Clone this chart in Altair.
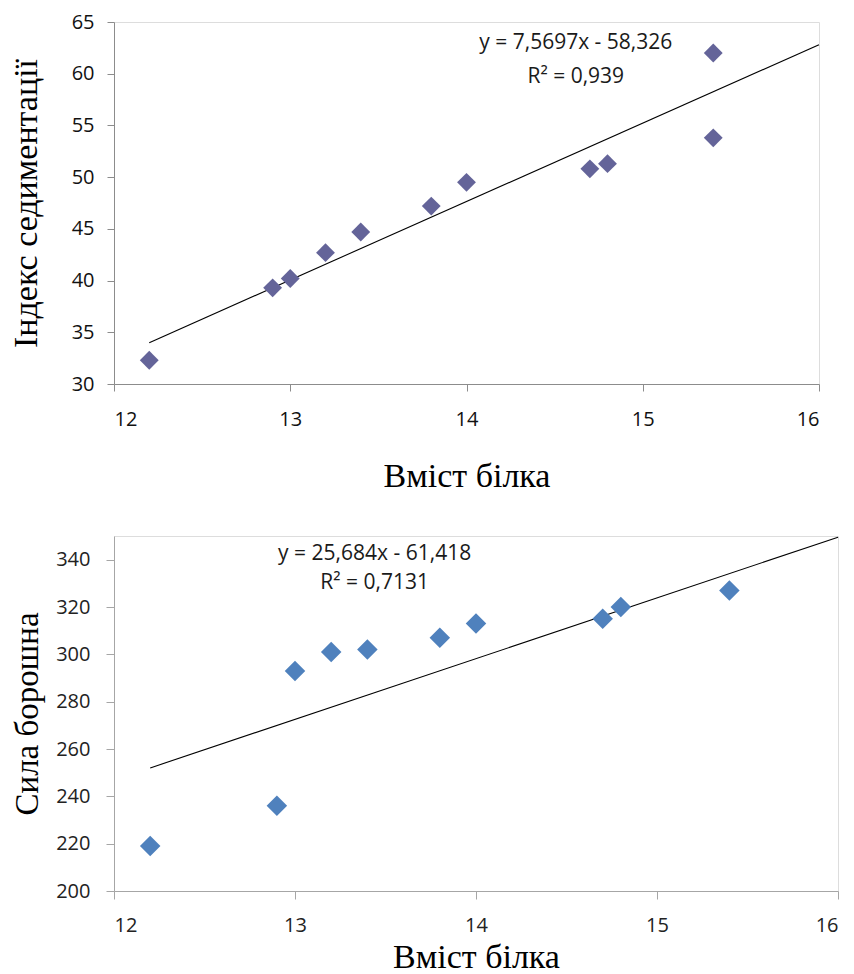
import altair as alt
import pandas as pd

# ---- data ----
protein_top = [12.2, 12.9, 13.0, 13.2, 13.4, 13.8, 14.0, 14.7, 14.8, 15.4, 15.4]
sedimentation = [32.3, 39.3, 40.2, 42.7, 44.7, 47.2, 49.5, 50.8, 51.3, 53.8, 62.0]

protein_bottom = [12.2, 12.9, 13.0, 13.2, 13.4, 13.8, 14.0, 14.7, 14.8, 15.4]
flour_strength = [219, 236, 293, 301, 302, 307, 313, 315, 320, 327]

trend_x = [12.2, 16.0]
trend_top_y = [34.0, 62.8]
trend_bottom_y = [252.0, 349.5]

x_ticks = [12, 13, 14, 15, 16]
top_y_ticks = [30, 35, 40, 45, 50, 55, 60, 65]
bottom_y_ticks = [200, 220, 240, 260, 280, 300, 320, 340]

top_eq = ["y = 7,5697x - 58,326", "R² = 0,939"]
bottom_eq = ["y = 25,684x - 61,418", "R² = 0,7131"]

x_title = "Вміст білка"
top_y_title = "Індекс седиментації"
bottom_y_title = "Сила борошна"

# annotation anchor points (data coordinates)
top_eq_x = [14.62, 14.62]
top_eq_y = [63.0, 59.7]
bottom_eq_x = [13.44, 13.44]
bottom_eq_y = [342.5, 330.2]

TICK_FONT = "Open Sans"
TITLE_FONT = "Liberation Serif"


def make_panel(px, py, tx, ty, ex, ey, etext, ydom, yticks, ytitle, color,
               width, height, msize, axis_color, lab_color, ylabpad, ytick,
               ytitlepad, xlabpad, xtitlepad, ytitlesize):
    pts = pd.DataFrame({"x": px, "y": py})
    trend = pd.DataFrame({"x": tx, "y": ty})
    ann = pd.DataFrame({"x": ex, "y": ey, "t": etext})

    xs = alt.Scale(domain=[12, 16], nice=False, zero=False)
    ys = alt.Scale(domain=ydom, nice=False, zero=False)

    xaxis = alt.Axis(
        values=x_ticks, format="d", title=x_title, grid=False,
        domainColor=axis_color, tickColor=axis_color, tickSize=ytick,
        labelFont=TICK_FONT, labelFontSize=20, labelColor=lab_color,
        labelPadding=xlabpad, titleFont=TITLE_FONT, titleFontSize=34,
        titleFontWeight="normal", titleColor="#000000", titlePadding=xtitlepad,
    )
    yaxis = alt.Axis(
        values=yticks, format="d", title=ytitle, grid=False,
        domainColor=axis_color, tickColor=axis_color, tickSize=ytick,
        labelFont=TICK_FONT, labelFontSize=20, labelColor=lab_color,
        labelPadding=ylabpad, titleFont=TITLE_FONT, titleFontSize=ytitlesize,
        titleFontWeight="normal", titleColor="#000000", titlePadding=ytitlepad,
    )

    points = alt.Chart(pts).mark_point(
        shape="diamond", filled=True, opacity=1, size=msize, color=color
    ).encode(
        x=alt.X("x:Q", scale=xs, axis=xaxis),
        y=alt.Y("y:Q", scale=ys, axis=yaxis),
    )
    line = alt.Chart(trend).mark_line(color="#000000", strokeWidth=1.1).encode(
        x=alt.X("x:Q", scale=xs),
        y=alt.Y("y:Q", scale=ys),
    )
    text = alt.Chart(ann).mark_text(
        font=TICK_FONT, fontSize=21, color="#1a1a1a", align="center",
        baseline="middle",
    ).encode(
        x=alt.X("x:Q", scale=xs),
        y=alt.Y("y:Q", scale=ys),
        text="t:N",
    )
    return alt.layer(line, points, text).properties(width=width, height=height)


top = make_panel(protein_top, sedimentation, trend_x, trend_top_y,
                 top_eq_x, top_eq_y, top_eq, [30, 65], top_y_ticks,
                 top_y_title, "#646499", 705, 362, 355, "#8c8c8c", "#111111",
                 13, 7, 28, 18, 30, 34)
bottom = make_panel(protein_bottom, flour_strength, trend_x, trend_bottom_y,
                    bottom_eq_x, bottom_eq_y, bottom_eq, [200, 350],
                    bottom_y_ticks, bottom_y_title, "#4f81bd", 724, 355, 420,
                    "#a6a6a6", "#222222", 16, 8, 11, 16, 5, 33)

chart = alt.vconcat(top, bottom, spacing=40).properties(
    padding={"left": 0, "top": 3, "right": 0, "bottom": 0}
).configure_view(stroke=None).configure(background="white")

chart.save("out.html", embed_options={"renderer": "svg", "actions": False})
